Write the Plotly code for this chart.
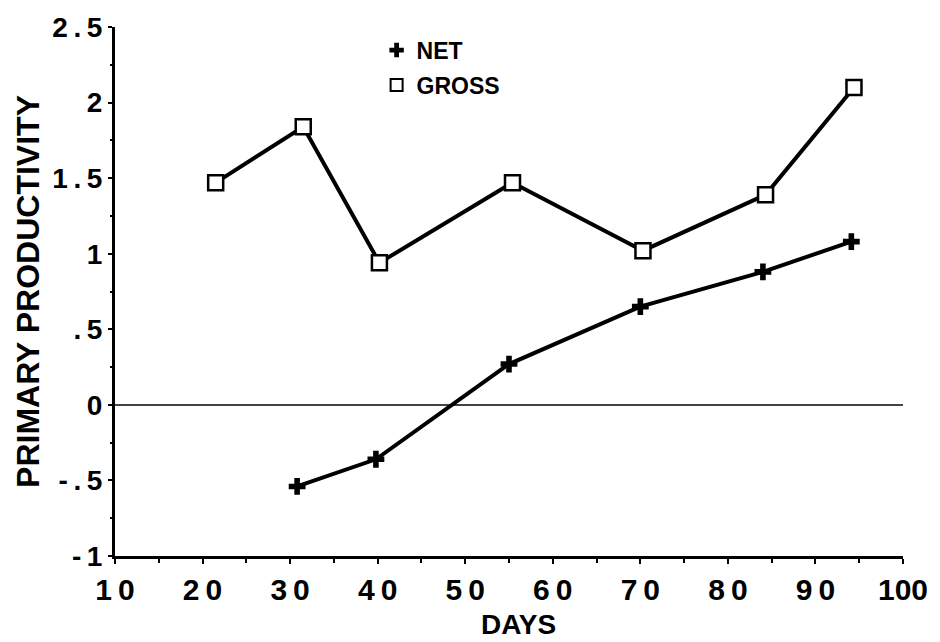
import plotly.graph_objects as go

gross_days = [21.5, 31.5, 40.2, 55.4, 70.3, 84.3, 94.4]
gross_vals = [1.47, 1.84, 0.94, 1.47, 1.02, 1.39, 2.10]
net_days = [30.8, 39.8, 55.0, 70.0, 84.0, 94.1]
net_vals = [-0.54, -0.36, 0.27, 0.65, 0.88, 1.08]

TS = "\u2009"  # thin space used to reproduce the spaced-out digits
x_ticks = [10, 20, 30, 40, 50, 60, 70, 80, 90, 100]
x_ticktext = ["1" + TS + "0", "2" + TS + "0", "3" + TS + "0", "4" + TS + "0", "5" + TS + "0",
              "6" + TS + "0", "7" + TS + "0", "8" + TS + "0", "9" + TS + "0", "100"]
y_ticks = [-1, -0.5, 0, 0.5, 1, 1.5, 2, 2.5]
y_ticktext = ["-" + TS + "1", "-" + TS + "." + TS + "5", "0", "." + TS + "5", "1",
              "1" + TS + "." + TS + "5", "2", "2" + TS + "." + TS + "5"]

FONT = "Liberation Sans, Arial, sans-serif"

fig = go.Figure()
fig.add_trace(go.Scatter(
    x=gross_days, y=gross_vals, mode="lines+markers", showlegend=False,
    line=dict(color="black", width=4),
    marker=dict(symbol="square", size=15, color="white",
                line=dict(color="black", width=2.5)),
))
fig.add_trace(go.Scatter(
    x=net_days, y=net_vals, mode="lines+markers", showlegend=False,
    line=dict(color="black", width=4),
    marker=dict(symbol="cross", size=14, color="black",
                line=dict(color="black", width=0)),
))
# legend entries (marker only)
fig.add_trace(go.Scatter(
    x=[None], y=[None], mode="markers", name="<b>NET</b>", legendgroup="a",
    marker=dict(symbol="cross", size=13, color="black"),
))
fig.add_trace(go.Scatter(
    x=[None], y=[None], mode="markers", name="<b>GROSS</b>", legendgroup="b",
    marker=dict(symbol="square", size=13, color="white",
                line=dict(color="black", width=2.5)),
))

fig.update_layout(
    width=940, height=642,
    margin=dict(l=115, r=35, t=20, b=86),
    paper_bgcolor="white", plot_bgcolor="white",
    font=dict(family=FONT, color="black", size=20),
    legend=dict(x=0.332, y=0.997, xanchor="left", yanchor="top",
                bgcolor="rgba(0,0,0,0)", font=dict(size=23, family=FONT),
                itemsizing="constant", tracegroupgap=2, itemwidth=30),
    xaxis=dict(
        range=[10, 100], tickmode="array", tickvals=x_ticks, ticktext=x_ticktext,
        showgrid=False, zeroline=False, showline=True, linecolor="black", linewidth=3,
        ticks="outside", ticklen=5, tickwidth=2, tickcolor="black",
        tickfont=dict(size=30, family=FONT, weight="bold"),
        minor=dict(ticks="outside", ticklen=4, tickwidth=2, tickcolor="black", dtick=5),
    ),
    yaxis=dict(
        range=[-1, 2.5], tickmode="array", tickvals=y_ticks, ticktext=y_ticktext,
        showgrid=False, zeroline=True, zerolinecolor="#444", zerolinewidth=2,
        showline=True, linecolor="black", linewidth=3,
        ticks="outside", ticklen=4, tickwidth=2, tickcolor="black",
        tickfont=dict(size=28, family=FONT, weight="bold"),
        minor=dict(ticks="outside", ticklen=2, tickwidth=2, tickcolor="black", dtick=0.25),
        title=dict(text="<b>PRIMARY PRODUCTIVITY</b>", font=dict(size=32, family=FONT), standoff=4),
    ),
    annotations=[dict(
        text="<b>DAYS</b>", xref="paper", yref="paper", x=0.5115, y=0, yshift=-51,
        xanchor="center", yanchor="top", showarrow=False,
        font=dict(size=28, family=FONT, color="black"),
    )],
)

fig.write_html("out.html")
